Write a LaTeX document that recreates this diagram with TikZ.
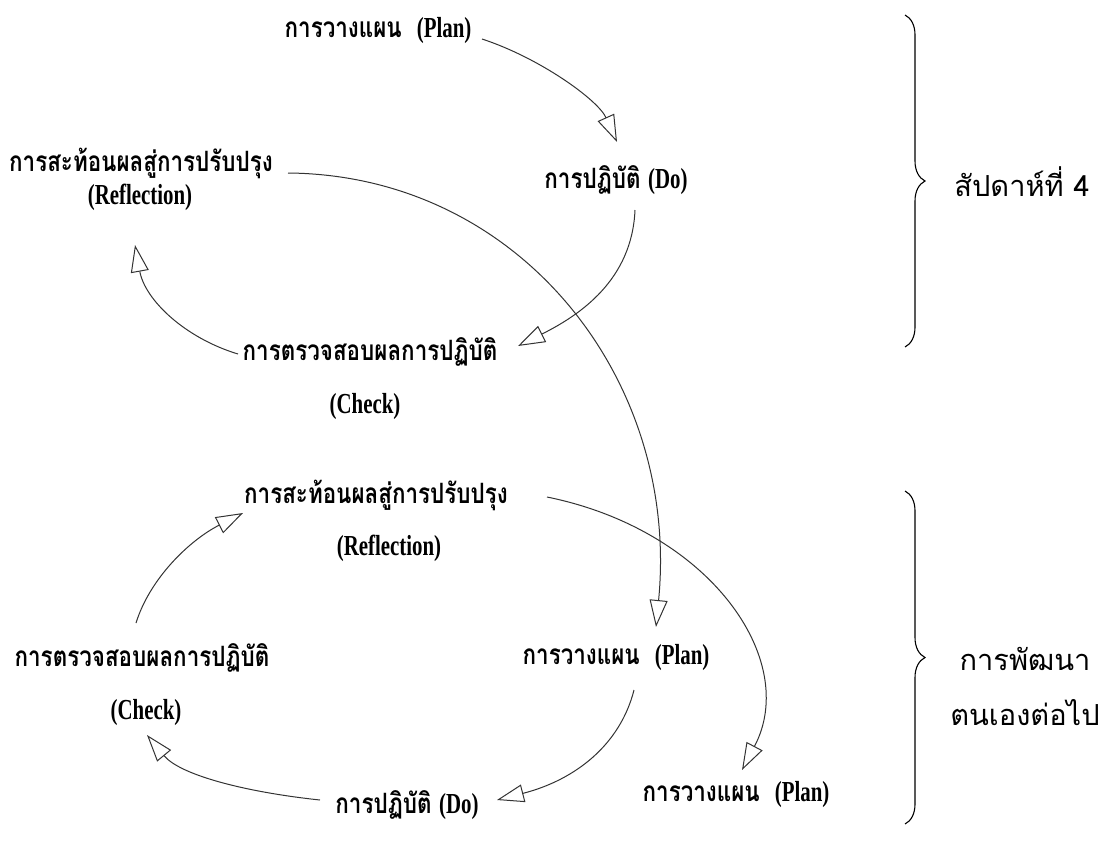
\documentclass[tikz,border=0pt]{standalone}
\usepackage{fontspec}
\usetikzlibrary{arrows.meta,decorations.pathreplacing,calc}

\newfontfamily\thaifont[Script=Thai,FakeStretch=0.8]{Loma}
\newfontfamily\thaisans[Script=Thai]{Loma}
\newfontfamily\engfont[FakeStretch=0.72]{Liberation Serif}
\newcommand{\thaitxt}[1]{{\thaifont\bfseries\fontsize{28}{32}\selectfont #1}}
\newcommand{\engtxt}[1]{{\engfont\bfseries\fontsize{29}{33}\selectfont #1}}

\tikzset{
  stage/.style={inner sep=4pt, font=\fontsize{25}{29}\selectfont},
  note/.style={font=\thaisans\fontsize{29}{55}\selectfont, align=center},
  cyc/.style={draw=black!80, line width=1pt,
    -{Triangle[length=27pt,width=18pt,fill=white]}},
  bracket/.style={draw, line width=1.1pt, decorate,
    decoration={brace,amplitude=20pt}}
}

\begin{document}
\begin{tikzpicture}[x=1pt,y=-1pt]
  \useasboundingbox (0,0) rectangle (1099,849);

  % week 4 cycle
  \begin{scope}[every node/.style={stage}]
    \node (plan1)   at (378,31)  {\thaitxt{การวางแผน}~~\engtxt{(Plan)}};
    \node (do1)     at (616,180) {\thaitxt{การปฏิบัติ} \engtxt{(Do)}};
    \node (check1)  at (370,352) {\thaitxt{การตรวจสอบผลการปฏิบัติ}};
    \node (check1b) at (365,407) {\engtxt{(Check)}};
    \node (refl1)   at (141,163) {\thaitxt{การสะท้อนผลสู่การปรับปรุง}};
    \node (refl1b)  at (140,197) {\engtxt{(Reflection)}};
  \end{scope}

  % next cycle
  \begin{scope}[every node/.style={stage}]
    \node (refl2)   at (376,495) {\thaitxt{การสะท้อนผลสู่การปรับปรุง}};
    \node (refl2b)  at (389,548) {\engtxt{(Reflection)}};
    \node (plan2)   at (616,658) {\thaitxt{การวางแผน}~~\engtxt{(Plan)}};
    \node (do2)     at (407,805) {\thaitxt{การปฏิบัติ} \engtxt{(Do)}};
    \node (check2)  at (142,658) {\thaitxt{การตรวจสอบผลการปฏิบัติ}};
    \node (check2b) at (146,713) {\engtxt{(Check)}};
    \node (plan3)   at (736,795) {\thaitxt{การวางแผน}~~\engtxt{(Plan)}};
  \end{scope}

  \draw[cyc] ($(plan1)+(104,8)$) .. controls (540,58) and (598,100) .. ($(do1)+(1,-38)$);
  \draw[cyc] ($(do1)+(19,30)$) .. controls (632,280) and (580,315) .. ($(check1)+(148,-6)$);
  \draw[cyc] ($(check1)+(-132,2)$) .. controls (185,338) and (145,300) .. ($(refl1)+(-6,82)$);
  \draw[cyc] ($(refl1)+(147,10)$) .. controls (520,175) and (680,380) .. ($(plan2)+(40,-31)$);

  \draw[cyc] ($(plan2)+(18,32)$) .. controls (620,745) and (575,780) .. ($(do2)+(90,-5)$);
  \draw[cyc] ($(do2)+(-87,-5)$) .. controls (245,792) and (180,775) .. ($(check2)+(5,77)$);
  \draw[cyc] ($(check2)+(-6,-35)$) .. controls (150,578) and (190,540) .. ($(refl2)+(-133,18)$);
  \draw[cyc] ($(refl2)+(171,2)$) .. controls (710,530) and (800,660) .. ($(plan3)+(6,-25)$);

  % braces
  \draw[bracket] (905,15) -- (905,347);
  \draw[bracket] (905,491) -- (905,824);
  \node[note] (week)  at (1022,182) {สัปดาห์ที่ 4};
  \node[note] (later) at (1025,686) {การพัฒนา\\ตนเองต่อไป};

\end{tikzpicture}
\end{document}
